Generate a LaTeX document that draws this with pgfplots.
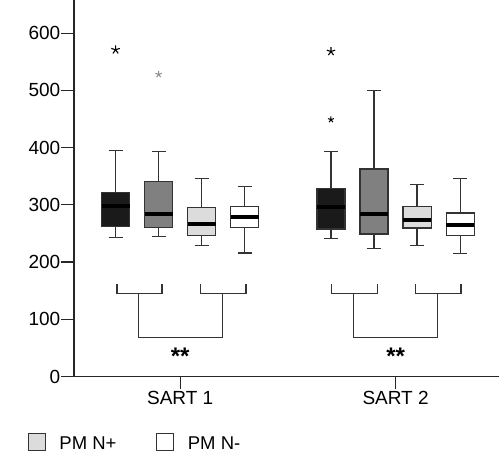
\documentclass[border=0pt]{standalone}
\usepackage{fontspec}
\setmainfont{Liberation Sans}
\usepackage{pgfplots}
\pgfplotsset{compat=1.18}
\definecolor{c1}{HTML}{1A1A1A}
\definecolor{c2}{HTML}{808080}
\definecolor{c3}{HTML}{DCDCDC}
\definecolor{lc}{HTML}{333333}
% box: #1 position, #2 lower whisker, #3 lower quartile, #4 median, #5 upper quartile, #6 upper whisker, #7 fill
\newcommand{\bx}[7]{%
 \pgfmathsetmacro\xl{#1-0.065}\pgfmathsetmacro\xr{#1+0.065}%
 \pgfmathsetmacro\cl{#1-0.0325}\pgfmathsetmacro\cre{#1+0.0325}%
 \edef\temp{%
 \noexpand\addplot[lc, line width=1.3pt] coordinates {(#1,#2) (#1,#3)};
 \noexpand\addplot[lc, line width=1.3pt] coordinates {(\cl,#2) (\cre,#2)};
 \noexpand\addplot[lc, line width=1.3pt] coordinates {(#1,#5) (#1,#6)};
 \noexpand\addplot[lc, line width=1.3pt] coordinates {(\cl,#6) (\cre,#6)};
 \noexpand\addplot[fill=#7, draw=lc, line width=1.3pt] coordinates {(\xl,#3) (\xr,#3) (\xr,#5) (\xl,#5)} --cycle;
 \noexpand\addplot[black, line width=4pt] coordinates {(\xl,#4) (\xr,#4)};
 }\temp}
\begin{document}
\begin{tikzpicture}
\path[use as bounding box] (0,0) rectangle (499pt,456pt);
\begin{axis}[
 at={(74pt,79.5pt)}, anchor=south west,
 scale only axis, width=425pt, height=376.5pt,
 xmin=0.507, xmax=2.48, ymin=0, ymax=658,
 axis lines=left, axis line style={-, line width=1.3pt, black!85},
 ytick={0,100,...,600}, xtick={1,2}, xticklabels={SART 1, SART 2},
 tick align=outside, major tick length=12.5pt,
 tick style={line width=1.3pt, black!85},
 minor tick num=0,
 /pgf/number format/assume math mode=true,
 tick label style={font=\fontsize{19}{22}\selectfont},
 yticklabel style={inner sep=1pt},
 xticklabel style={inner sep=2pt},
 clip=false,
]
% SART 1
\bx{0.7}{242.8}{262.7}{297.7}{321.5}{395}{c1}
\bx{0.9}{245.2}{261}{283.7}{340.8}{392.7}{c2}
\bx{1.1}{229.5}{247}{267.3}{295.3}{345.5}{c3}
\bx{1.3}{216}{261}{278.5}{297.7}{331.5}{white}
% SART 2
\bx{1.7}{241}{258}{296.5}{329}{393.3}{c1}
\bx{1.9}{224.2}{249.3}{283.7}{362.4}{500}{c2}
\bx{2.1}{229.5}{259.7}{273.7}{297}{335.5}{c3}
\bx{2.3}{215.5}{246.3}{265}{286}{346}{white}
% outliers
\addplot[only marks, mark=star, mark size=4.5pt, mark options={line width=1.1pt, black}] coordinates {(0.7,571)};
\addplot[only marks, mark=star, mark size=3.4pt, mark options={line width=1pt, black!45}] coordinates {(0.9,528)};
\addplot[only marks, mark=star, mark size=4.4pt, mark options={line width=1.1pt, black}] coordinates {(1.7,568)};
\addplot[only marks, mark=star, mark size=3.2pt, mark options={line width=1pt, black}] coordinates {(1.7,449)};
% brackets
\addplot[lc, line width=1.3pt, sharp plot, mark=none] coordinates {(0.706,161) (0.706,145.5) (0.916,145.5) (0.916,161)};
\addplot[lc, line width=1.3pt, sharp plot, mark=none] coordinates {(1.093,161) (1.093,145.5) (1.305,145.5) (1.305,161)};
\addplot[lc, line width=1.3pt, sharp plot, mark=none] coordinates {(0.807,145.5) (0.807,68.6) (1.198,68.6) (1.198,145.5)};
\addplot[lc, line width=1.3pt, sharp plot, mark=none] coordinates {(1.704,161) (1.704,145.5) (1.915,145.5) (1.915,161)};
\addplot[lc, line width=1.3pt, sharp plot, mark=none] coordinates {(2.093,161) (2.093,145.5) (2.303,145.5) (2.303,161)};
\addplot[lc, line width=1.3pt, sharp plot, mark=none] coordinates {(1.805,145.5) (1.805,68.6) (2.196,68.6) (2.196,145.5)};
\node[font=\bfseries\fontsize{24}{28}\selectfont] at (axis cs:1,35) {**};
\node[font=\bfseries\fontsize{24}{28}\selectfont] at (axis cs:2,35) {**};
\end{axis}
% legend
\draw[line width=1pt, lc, fill=c3] (28.3pt,5.3pt) rectangle (45pt,22pt);
\node[anchor=base west, inner sep=0pt, font=\fontsize{18.5}{22}\selectfont] at (59.3pt,6pt) {PM N+};
\draw[line width=1pt, lc, fill=white] (156.7pt,5.3pt) rectangle (173.3pt,22pt);
\node[anchor=base west, inner sep=0pt, font=\fontsize{18.5}{22}\selectfont] at (187.7pt,6pt) {PM N-};
\end{tikzpicture}
\end{document}
